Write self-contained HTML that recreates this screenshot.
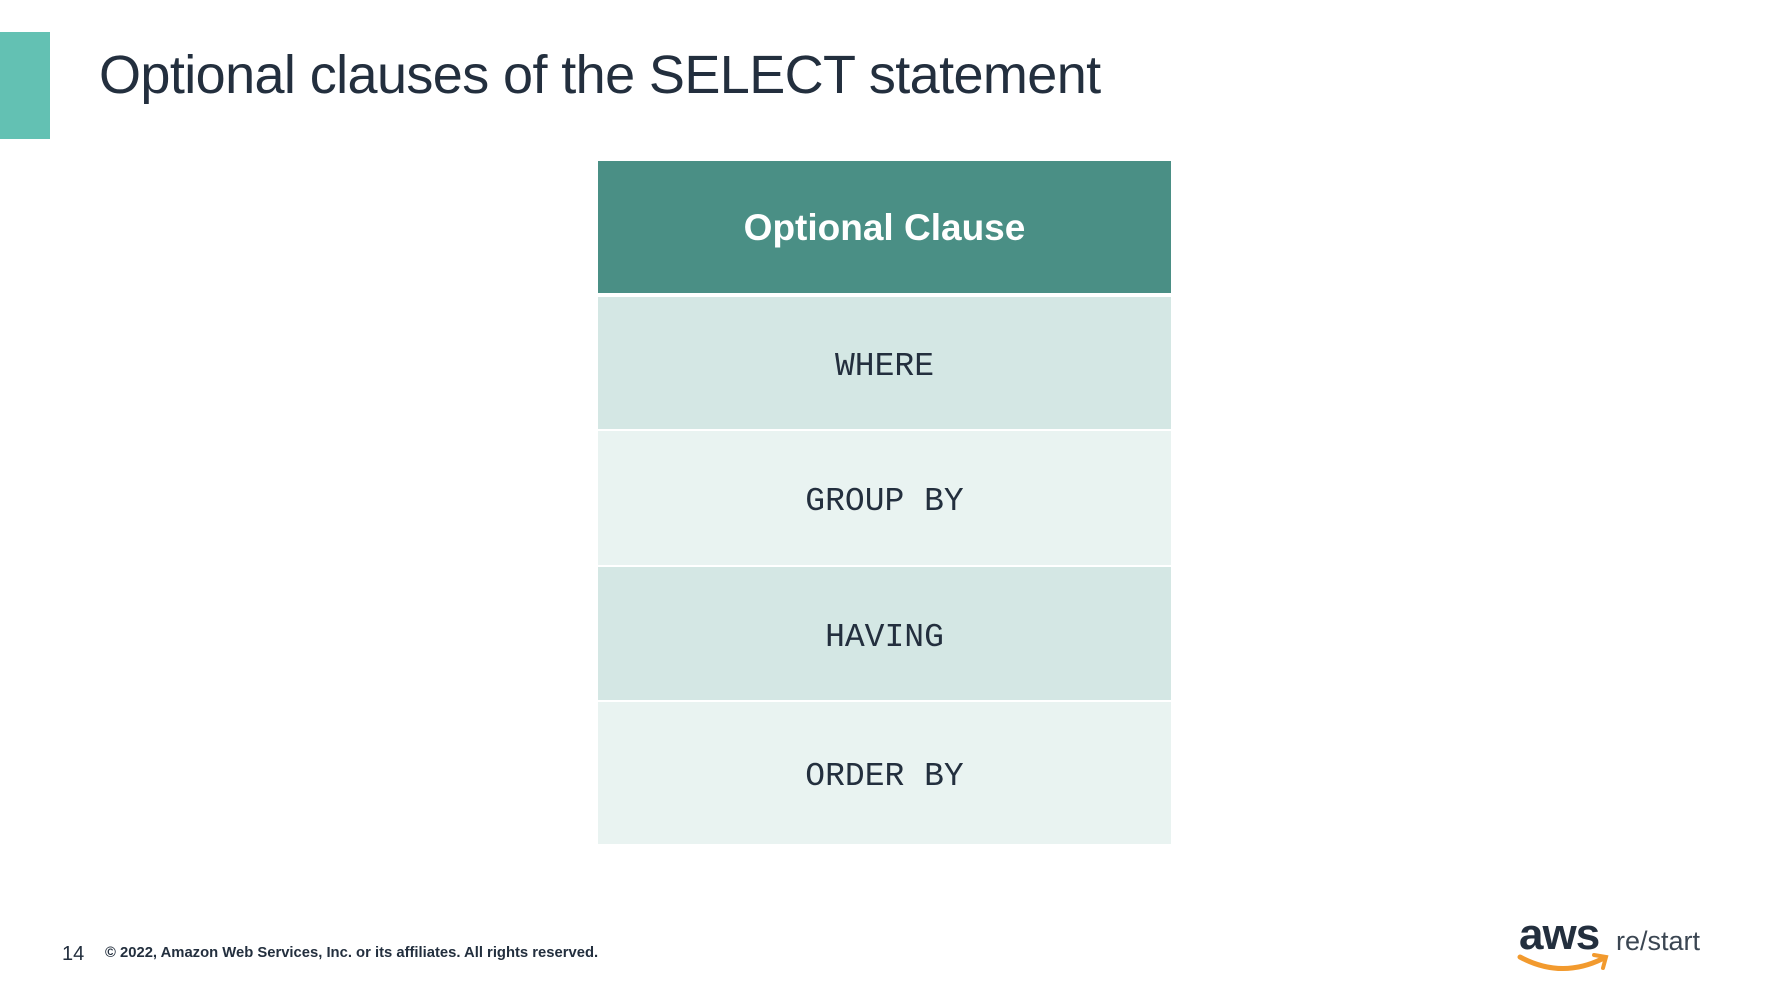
<!DOCTYPE html>
<html><head><meta charset="utf-8"><style>
body{margin:0;width:1787px;height:1002px;background:#fff;position:relative;overflow:hidden;font-family:"Liberation Sans",sans-serif;color:#232f3e}
.bar{position:absolute;left:0;top:32px;width:50px;height:107px;background:#63c1b3}
.title{position:absolute;left:99px;top:44px;font-size:54px;white-space:nowrap;letter-spacing:-0.6px}
.cell{position:absolute;left:598px;width:573px;display:flex;align-items:center;justify-content:center;font-family:"Liberation Mono",monospace;font-size:33px;color:#232f3e;box-sizing:border-box;padding-top:7px}
.h{background:#4a8f85;color:#fff;font-family:"Liberation Sans",sans-serif;font-weight:bold;font-size:37px;padding-top:2px}
.d{background:#d4e7e4}.l{background:#e9f3f1}
.foot{position:absolute;top:943px;font-size:20px}
</style></head><body>
<div class="bar"></div>
<div class="title">Optional clauses of the SELECT statement</div>
<div class="cell h" style="top:161px;height:132px">Optional Clause</div>
<div class="cell d" style="top:297px;height:132px">WHERE</div>
<div class="cell l" style="top:431px;height:134px">GROUP BY</div>
<div class="cell d" style="top:567px;height:133px">HAVING</div>
<div class="cell l" style="top:702px;height:142px">ORDER BY</div>
<div class="foot" style="left:62px">14</div>
<div class="foot" style="left:105px;top:945px;font-size:14.8px;font-weight:bold">© 2022, Amazon Web Services, Inc. or its affiliates. All rights reserved.</div>
<div style="position:absolute;left:1519px;top:910px;font-size:44px;font-weight:bold;color:#232f3e;letter-spacing:-1px">aws</div>
<svg style="position:absolute;left:1516px;top:951px" width="95" height="30"><path d="M4 6 Q45 28 86 8" stroke="#f29a2e" stroke-width="5" fill="none" stroke-linecap="round"/><path d="M78 4 L90 6 L87 17" stroke="#f29a2e" stroke-width="4" fill="none" stroke-linecap="round"/></svg>
<div style="position:absolute;left:1616px;top:926px;font-size:27px;color:#3b4652">re/start</div>
</body></html>
